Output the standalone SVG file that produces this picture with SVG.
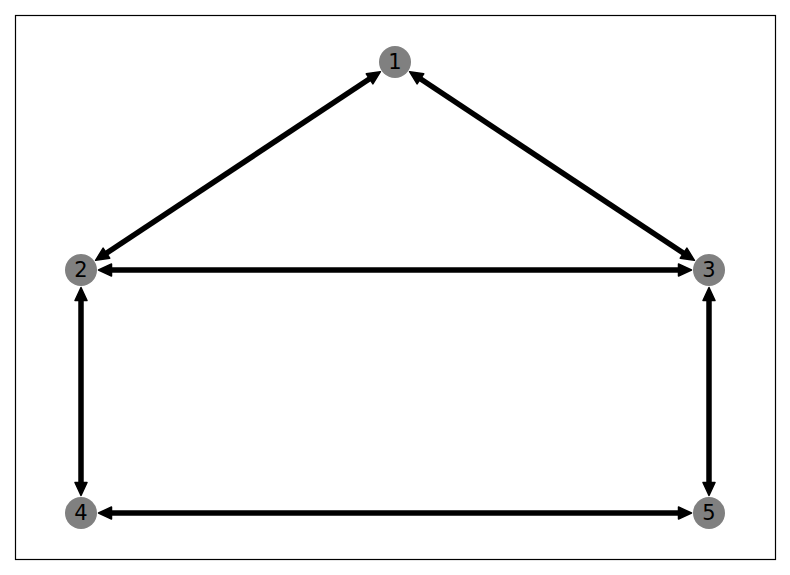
<svg xmlns="http://www.w3.org/2000/svg" width="790" height="575" viewBox="0 0 790 575">
<style>
.edge{stroke:#000;stroke-width:5.5;fill:none;marker-start:url(#ah);marker-end:url(#ah)}
.node circle{fill:#808080}
.node text{font-family:"DejaVu Sans",sans-serif;font-size:21px;fill:#000;text-anchor:middle;dominant-baseline:central}
</style>
<defs>
<marker id="ah" markerUnits="userSpaceOnUse" markerWidth="18" markerHeight="18" viewBox="-3 -9 18 18" refX="0" refY="0" orient="auto-start-reverse">
<path d="M-1,-6 L12,0 L-1,6 Z" fill="#000" stroke="#000" stroke-width="1.5" stroke-linejoin="round"/>
</marker>
</defs>
<rect x="15.5" y="15.5" width="760" height="544" fill="#fff" stroke="#000" stroke-width="1.2"/>
<g id="edges">
<line class="edge" x1="370.41" y1="78.29" x2="105.59" y2="253.71"/>
<line class="edge" x1="419.59" y1="78.29" x2="684.41" y2="253.71"/>
<line class="edge" x1="110.5" y1="270" x2="679.5" y2="270"/>
<line class="edge" x1="81" y1="299.5" x2="81" y2="483.5"/>
<line class="edge" x1="709" y1="299.5" x2="709" y2="483.5"/>
<line class="edge" x1="110.5" y1="513" x2="679.5" y2="513"/>
</g>
<g id="node1" class="node"><circle cx="395" cy="62" r="16"/><text x="395" y="62">1</text></g>
<g id="node2" class="node"><circle cx="81" cy="270" r="16"/><text x="81" y="270">2</text></g>
<g id="node3" class="node"><circle cx="709" cy="270" r="16"/><text x="709" y="270">3</text></g>
<g id="node4" class="node"><circle cx="81" cy="513" r="16"/><text x="81" y="513">4</text></g>
<g id="node5" class="node"><circle cx="709" cy="513" r="16"/><text x="709" y="513">5</text></g>
</svg>
